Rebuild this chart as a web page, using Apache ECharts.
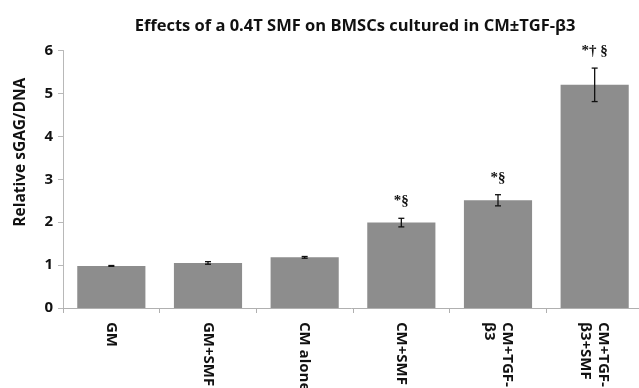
<!DOCTYPE html>
<html>
<head>
<meta charset="utf-8">
<script src="https://cdn.jsdelivr.net/npm/echarts@6/dist/echarts.min.js"></script>
<style>
  html, body { margin: 0; padding: 0; background: #fff; }
  #chart { width: 639px; height: 388px; }
</style>
</head>
<body>
<div id="chart"></div>
<script>
// Culture conditions along the x axis
const groups = ['GM', 'GM+SMF', 'CM alone', 'CM+SMF', 'CM+TGF-\nβ3', 'CM+TGF-\nβ3+SMF'];
// Mean relative sGAG/DNA per group
const means = [0.98, 1.05, 1.18, 1.99, 2.51, 5.20];
// Standard error of each mean
const errors = [0.01, 0.03, 0.02, 0.10, 0.13, 0.39];
// Significance marks shown above the bars
const marks = ['', '', '', '*§', '*§', '*† §'];
// Value-axis ticks
const yTicks = [0, 1, 2, 3, 4, 5, 6];

const chart = echarts.init(document.getElementById('chart'), null, { renderer: 'canvas' });

const boldSans = '"Open Sans", "Liberation Sans", sans-serif';

chart.setOption({
  animation: false,
  title: {
    text: 'Effects of a 0.4T SMF on BMSCs cultured in CM±TGF-β3',
    left: 350,
    top: 13,
    textAlign: 'center',
    textStyle: { fontFamily: boldSans, fontWeight: 'bold', fontSize: 16.5, color: '#111' }
  },
  grid: {
    left: 63, top: 50.5, width: 580, height: 257.5,
    containLabel: false,
    outerBoundsMode: 'none'
  },
  xAxis: {
    type: 'category',
    data: groups,
    boundaryGap: true,
    axisLine: { lineStyle: { color: '#b0b0b0', width: 1 } },
    axisTick: { show: true, alignWithLabel: false, length: 5, lineStyle: { color: '#b0b0b0' } },
    axisLabel: {
      rotate: -90,
      margin: 14,
      interval: 0,
      fontFamily: boldSans,
      fontWeight: 'bold',
      fontSize: 15,
      lineHeight: 18,
      color: '#111'
    }
  },
  yAxis: {
    type: 'value',
    min: yTicks[0],
    max: yTicks[yTicks.length - 1],
    interval: 1,
    name: 'Relative sGAG/DNA',
    nameLocation: 'middle',
    nameGap: 34,
    nameRotate: 90,
    nameTextStyle: {
      fontFamily: boldSans, fontWeight: 'bold', fontSize: 15.5, color: '#111',
      padding: [0, 0, 0, 54]
    },
    axisLine: { show: true, lineStyle: { color: '#b8b8b8', width: 1 } },
    axisTick: { show: true, length: 5, lineStyle: { color: '#b8b8b8' } },
    axisLabel: {
      margin: 10,
      fontFamily: boldSans,
      fontWeight: 'bold',
      fontSize: 15,
      color: '#111'
    },
    splitLine: { show: false }
  },
  series: [
    {
      type: 'bar',
      data: means,
      barCategoryGap: '29.5%',
      itemStyle: { color: '#8d8d8d' },
      z: 2
    },
    {
      // Error bars with end caps, plus the significance marks
      type: 'custom',
      data: means.map((m, i) => [i, m, errors[i]]),
      z: 5,
      renderItem: function (params, api) {
        const i = api.value(0);
        const m = api.value(1);
        const e = api.value(2);
        const top = api.coord([i, m + e]);
        const bot = api.coord([i, m - e]);
        const cap = 3;
        const style = { stroke: '#111', lineWidth: 1.3 };
        const children = [
          { type: 'line', shape: { x1: top[0], y1: top[1], x2: bot[0], y2: bot[1] }, style: style },
          { type: 'line', shape: { x1: top[0] - cap, y1: top[1], x2: top[0] + cap, y2: top[1] }, style: style },
          { type: 'line', shape: { x1: bot[0] - cap, y1: bot[1], x2: bot[0] + cap, y2: bot[1] }, style: style }
        ];
        const mark = marks[params.dataIndex];
        if (mark) {
          children.push({
            type: 'text',
            style: {
              text: mark,
              x: top[0],
              y: top[1] - 17,
              align: 'center',
              verticalAlign: 'middle',
              font: 'bold 15px "Liberation Serif", "DejaVu Serif", serif',
              fill: '#111'
            }
          });
        }
        return { type: 'group', children: children };
      }
    }
  ]
});
</script>
</body>
</html>
